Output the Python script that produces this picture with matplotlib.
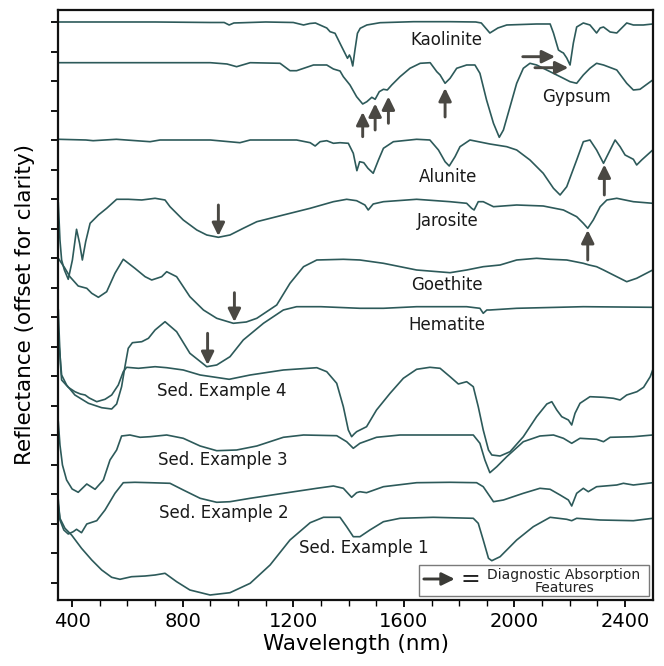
import matplotlib
matplotlib.use('Agg')
import matplotlib.pyplot as plt
import numpy as np
from matplotlib.patches import Rectangle

# ---------------- data (wavelength nm, offset reflectance) ----------------
kaolinite_wl = [350, 500, 700, 900, 950, 968, 985, 1100, 1200, 1237, 1260, 1280, 1321, 1333, 1351, 1363,
                1375, 1387, 1396, 1403, 1408, 1415, 1423, 1432, 1442, 1466, 1514, 1635, 1767, 1860, 1880,
                1911, 1940, 1972, 2080, 2129, 2141, 2159, 2170, 2177, 2189, 2201, 2213, 2225, 2249, 2273,
                2297, 2310, 2322, 2346, 2370, 2406, 2430, 2466, 2500]
kaolinite_r = [5.78, 5.78, 5.78, 5.775, 5.775, 5.75, 5.77, 5.78, 5.775, 5.75, 5.765, 5.77, 5.72, 5.683, 5.667, 5.60,
               5.533, 5.467, 5.417, 5.45, 5.42, 5.34, 5.50, 5.667, 5.717, 5.75, 5.773, 5.783, 5.783, 5.78, 5.77,
               5.67, 5.72, 5.75, 5.76, 5.76, 5.67, 5.50, 5.48, 5.47, 5.42, 5.35, 5.57, 5.73, 5.77, 5.75,
               5.67, 5.72, 5.73, 5.68, 5.67, 5.77, 5.75, 5.75, 5.76]

gypsum_wl = [350, 500, 900, 960, 995, 1044, 1152, 1188, 1212, 1273, 1321, 1345, 1369, 1381, 1405, 1429, 1451,
             1466, 1484, 1496, 1511, 1526, 1540, 1556, 1586, 1622, 1659, 1695, 1719, 1731, 1749, 1767, 1791,
             1827, 1857, 1875, 1899, 1924, 1945, 1960, 1984, 2008, 2032, 2056, 2080, 2129, 2177, 2201, 2225,
             2249, 2273, 2297, 2322, 2370, 2406, 2430, 2454, 2500]
gypsum_r = [5.373, 5.373, 5.373, 5.36, 5.333, 5.373, 5.367, 5.293, 5.293, 5.35, 5.35, 5.31, 5.29, 5.233, 5.15, 5.033, 4.96,
            4.983, 5.027, 5.007, 5.083, 5.107, 5.10, 5.15, 5.233, 5.317, 5.367, 5.373, 5.283, 5.25, 5.167, 5.217, 5.317,
            5.35, 5.35, 5.267, 5.0, 4.767, 4.627, 4.70, 4.933, 5.167, 5.317, 5.367, 5.35, 5.283, 5.217, 5.183, 5.167,
            5.25, 5.317, 5.367, 5.35, 5.30, 5.167, 5.10, 5.107, 5.20]

alunite_wl = [350, 450, 476, 560, 682, 718, 900, 1007, 1044, 1212, 1261, 1279, 1297, 1321, 1345, 1369, 1399,
              1417, 1430, 1440, 1455, 1470, 1489, 1508, 1526, 1562, 1646, 1694, 1725, 1749, 1764, 1785, 1803,
              1839, 1911, 1972, 2008, 2056, 2104, 2141, 2165, 2189, 2225, 2249, 2273, 2297, 2322, 2346, 2364,
              2382, 2400, 2430, 2442, 2460, 2500]
alunite_r = [4.607, 4.60, 4.593, 4.607, 4.583, 4.60, 4.60, 4.573, 4.60, 4.60, 4.573, 4.54, 4.583, 4.593, 4.567, 4.573, 4.567,
             4.467, 4.293, 4.383, 4.373, 4.317, 4.267, 4.40, 4.517, 4.583, 4.607, 4.60, 4.50, 4.383, 4.34, 4.433, 4.533,
             4.60, 4.56, 4.533, 4.50, 4.40, 4.267, 4.117, 4.05, 4.133, 4.40, 4.583, 4.60, 4.50, 4.367, 4.50, 4.60,
             4.533, 4.45, 4.407, 4.35, 4.40, 4.50]

jarosite_wl = [350, 356, 362, 372, 386, 401, 416, 427, 437, 449, 465, 495, 525, 561, 603, 652, 700, 736, 754,
               802, 851, 887, 929, 971, 1019, 1068, 1164, 1261, 1345, 1393, 1429, 1459, 1471, 1489, 1526, 1646,
               1767, 1827, 1845, 1854, 1869, 1887, 1924, 2008, 2104, 2177, 2225, 2249, 2265, 2285, 2310, 2334,
               2370, 2430, 2500]
jarosite_r = [3.97, 3.60, 3.40, 3.30, 3.207, 3.40, 3.707, 3.567, 3.40, 3.583, 3.767, 3.85, 3.917, 4.007, 4.007, 4.0, 4.017, 4.0, 3.933,
              3.80, 3.70, 3.65, 3.627, 3.65, 3.717, 3.783, 3.85, 3.917, 3.983, 4.007, 3.993, 3.95, 3.90, 3.96, 3.983, 4.007,
              3.983, 3.967, 3.917, 3.90, 3.983, 3.983, 3.933, 3.95, 3.94, 3.90, 3.833, 3.767, 3.717, 3.80, 3.933, 4.0,
              4.017, 3.983, 3.967]

goethite_wl = [350, 374, 392, 422, 453, 471, 495, 525, 555, 585, 627, 664, 688, 724, 742, 778, 826, 875, 923,
               983, 1030, 1068, 1140, 1188, 1237, 1285, 1381, 1441, 1526, 1646, 1767, 1827, 1887, 1948, 2008,
               2080, 2129, 2189, 2249, 2270, 2297, 2322, 2370, 2406, 2442, 2500]
goethite_r = [3.417, 3.317, 3.233, 3.14, 3.117, 3.067, 3.027, 3.083, 3.267, 3.407, 3.317, 3.233, 3.20, 3.233, 3.283, 3.233, 3.033, 2.90, 2.817,
              2.767, 2.78, 2.817, 2.95, 3.167, 3.333, 3.40, 3.407, 3.40, 3.367, 3.30, 3.273, 3.30, 3.333, 3.35, 3.40,
              3.417, 3.407, 3.40, 3.367, 3.35, 3.333, 3.30, 3.233, 3.183, 3.217, 3.30]

hematite_wl = [350, 356, 362, 380, 410, 459, 507, 543, 561, 579, 591, 603, 618, 652, 676, 700, 736, 778, 826,
               887, 923, 971, 1019, 1092, 1164, 1212, 1300, 1441, 1526, 1646, 1827, 1875, 1887, 1900, 1911,
               2008, 2249, 2500]
hematite_r = [2.62, 2.45, 2.25, 2.15, 2.05, 1.967, 1.923, 1.91, 1.96, 2.133, 2.333, 2.517, 2.573, 2.583, 2.617, 2.70, 2.783, 2.683, 2.467,
              2.333, 2.35, 2.433, 2.60, 2.767, 2.90, 2.933, 2.933, 2.917, 2.917, 2.933, 2.933, 2.917, 2.867, 2.90, 2.90,
              2.917, 2.933, 2.927]

sed4_wl = [350, 354, 358, 362, 386, 410, 430, 447, 462, 489, 519, 543, 567, 585, 597, 640, 700, 742, 802, 863,
           968, 1044, 1164, 1285, 1321, 1357, 1381, 1399, 1411, 1420, 1429, 1465, 1501, 1550, 1598, 1646, 1694,
           1731, 1767, 1797, 1827, 1851, 1869, 1887, 1906, 1918, 1948, 1984, 2032, 2080, 2117, 2135, 2153,
           2171, 2195, 2207, 2219, 2237, 2273, 2322, 2358, 2382, 2406, 2443, 2467, 2491, 2500]
sed4_r = [2.90, 2.60, 2.35, 2.20, 2.127, 2.083, 2.06, 2.05, 2.02, 1.983, 2.007, 2.05, 2.15, 2.283, 2.327, 2.317, 2.333, 2.323, 2.30, 2.25,
          2.207, 2.25, 2.30, 2.323, 2.283, 2.167, 1.933, 1.70, 1.633, 1.66, 1.683, 1.733, 1.90, 2.067, 2.217, 2.307, 2.327,
          2.317, 2.233, 2.16, 2.183, 2.133, 1.933, 1.70, 1.50, 1.45, 1.44, 1.483, 1.633, 1.833, 1.96, 1.983, 1.90,
          1.833, 1.80, 1.75, 1.867, 1.967, 2.033, 2.027, 2.017, 2.0, 2.05, 2.083, 2.127, 2.233, 2.30]

sed3_wl = [350, 356, 365, 380, 400, 422, 453, 483, 513, 537, 561, 579, 609, 646, 682, 742, 802, 863, 923, 995,
           1068, 1164, 1237, 1357, 1393, 1417, 1441, 1501, 1586, 1851, 1875, 1893, 1911, 1936, 1972, 2032,
           2092, 2141, 2177, 2207, 2237, 2297, 2322, 2346, 2430, 2500]
sed3_r = [1.78, 1.55, 1.35, 1.20, 1.11, 1.077, 1.16, 1.107, 1.20, 1.40, 1.50, 1.64, 1.65, 1.627, 1.633, 1.65, 1.617, 1.54, 1.493, 1.50,
          1.54, 1.627, 1.65, 1.643, 1.583, 1.517, 1.567, 1.627, 1.65, 1.65, 1.567, 1.40, 1.273, 1.333, 1.433, 1.583,
          1.64, 1.65, 1.617, 1.567, 1.617, 1.607, 1.583, 1.627, 1.633, 1.65]

sed2_wl = [350, 356, 370, 386, 404, 416, 434, 453, 489, 519, 555, 585, 627, 682, 754, 802, 863, 923, 971, 1044,
           1164, 1285, 1345, 1381, 1411, 1429, 1441, 1465, 1526, 1646, 1767, 1863, 1887, 1924, 1960, 2032,
           2092, 2129, 2165, 2195, 2207, 2225, 2249, 2267, 2297, 2370, 2394, 2430, 2500]
sed2_r = [1.0, 0.80, 0.70, 0.66, 0.683, 0.707, 0.673, 0.76, 0.793, 0.90, 1.067, 1.173, 1.177, 1.173, 1.167, 1.10, 1.017, 0.977, 0.983, 1.017,
          1.067, 1.117, 1.14, 1.117, 1.027, 1.073, 1.083, 1.073, 1.133, 1.173, 1.177, 1.173, 1.133, 0.983, 1.0, 1.067,
          1.117, 1.107, 1.05, 1.0, 0.94, 1.067, 1.117, 1.083, 1.133, 1.15, 1.167, 1.15, 1.173]

sed1_wl = [350, 356, 374, 398, 434, 471, 507, 543, 573, 615, 664, 700, 736, 778, 826, 899, 971, 1044, 1116,
           1188, 1261, 1309, 1369, 1393, 1417, 1441, 1477, 1526, 1586, 1706, 1851, 1869, 1887, 1906, 1918,
           1948, 2008, 2068, 2129, 2189, 2207, 2225, 2310, 2430, 2500]
sed1_r = [0.95, 0.817, 0.717, 0.65, 0.517, 0.40, 0.30, 0.227, 0.207, 0.233, 0.24, 0.25, 0.267, 0.183, 0.10, 0.05, 0.073, 0.167, 0.35,
          0.60, 0.773, 0.827, 0.827, 0.733, 0.633, 0.633, 0.70, 0.783, 0.817, 0.827, 0.817, 0.767, 0.60, 0.417, 0.393,
          0.433, 0.60, 0.733, 0.827, 0.807, 0.793, 0.817, 0.80, 0.793, 0.817]

labels = ["Kaolinite", "Gypsum", "Alunite", "Jarosite", "Goethite", "Hematite",
          "Sed. Example 4", "Sed. Example 3", "Sed. Example 2", "Sed. Example 1"]
label_wl = [1755, 2225, 1758, 1758, 1757, 1757, 941, 945, 947, 1456]
label_r = [5.60, 5.033, 4.233, 3.793, 3.15, 2.75, 2.093, 1.40, 0.867, 0.52]

# diagnostic arrows: (tail wl, tail r, head wl, head r)
arrow_tail_wl = [2030, 2074, 1451, 1496, 1544, 1749, 2325, 2265, 929, 987, 890]
arrow_tail_r = [5.433, 5.323, 4.633, 4.70, 4.767, 4.83, 4.05, 3.40, 3.95, 3.073, 2.667]
arrow_head_wl = [2147, 2195, 1451, 1496, 1544, 1749, 2325, 2265, 929, 987, 890]
arrow_head_r = [5.433, 5.323, 4.88, 4.965, 5.035, 5.12, 4.355, 3.70, 3.64, 2.78, 2.35]

xticks_major = [400, 800, 1200, 1600, 2000, 2400]

# ---------------- plotting ----------------
line_color = '#2d5a5a'
arrow_color = '#4a4843'
arrow_style = '-|>,head_length=0.55,head_width=0.27'

fig = plt.figure(figsize=(6.64, 6.66), dpi=100)
ax = fig.add_axes([0.0878, 0.0991, 0.8952, 0.8859])

spectra = [(kaolinite_wl, kaolinite_r), (gypsum_wl, gypsum_r), (alunite_wl, alunite_r),
           (jarosite_wl, jarosite_r), (goethite_wl, goethite_r), (hematite_wl, hematite_r),
           (sed4_wl, sed4_r), (sed3_wl, sed3_r), (sed2_wl, sed2_r), (sed1_wl, sed1_r)]
for wl, r in spectra:
    ax.plot(wl, r, color=line_color, lw=1.2, solid_joinstyle='round')

for name, x, y in zip(labels, label_wl, label_r):
    ax.text(x, y, name, ha='center', va='center', fontsize=12, color='#1a1a1a')

for tx, ty, hx, hy in zip(arrow_tail_wl, arrow_tail_r, arrow_head_wl, arrow_head_r):
    ax.annotate('', xy=(hx, hy), xytext=(tx, ty),
                arrowprops=dict(arrowstyle=arrow_style, color=arrow_color, lw=2.1,
                                mutation_scale=14, shrinkA=0, shrinkB=0))

# legend box
ax.add_patch(Rectangle((0.607, 0.007), 0.386, 0.052, transform=ax.transAxes,
                       facecolor='white', edgecolor='#7a7a7a', lw=1.0, zorder=5))
ax.annotate('', xy=(0.667, 0.0356), xytext=(0.615, 0.0356), xycoords='axes fraction',
            arrowprops=dict(arrowstyle=arrow_style, color='#3a3a36', lw=2.1,
                            mutation_scale=14, shrinkA=0, shrinkB=0),
            zorder=6)
ax.text(0.693, 0.036, '=', transform=ax.transAxes, ha='center', va='center', fontsize=17,
        color='#222222', zorder=6)
ax.text(0.850, 0.0425, 'Diagnostic Absorption', transform=ax.transAxes, ha='center', va='center',
        fontsize=10, color='#222222', zorder=6)
ax.text(0.852, 0.020, 'Features', transform=ax.transAxes, ha='center', va='center',
        fontsize=10, color='#222222', zorder=6)

ax.set_xlim(350, 2500)
ax.set_ylim(0, 5.9)
ax.set_xticks(xticks_major)
ax.set_xticks(np.arange(500, 2500, 100), minor=True)
ax.set_yticks(np.linspace(0.17, 5.78, 20))
ax.set_yticklabels([])
ax.tick_params(axis='x', which='major', length=5, width=1.3, labelsize=14, direction='out')
ax.tick_params(axis='x', which='minor', length=4, width=1.0, direction='out')
ax.tick_params(axis='y', which='major', length=5, width=1.3, direction='out')
for s in ax.spines.values():
    s.set_linewidth(1.6)
    s.set_color('#111111')

ax.set_xlabel('Wavelength (nm)', fontsize=15.5, labelpad=2)
ax.set_ylabel('Reflectance (offset for clarity)', fontsize=15.5, labelpad=8)

fig.savefig('out.png', dpi=100)
